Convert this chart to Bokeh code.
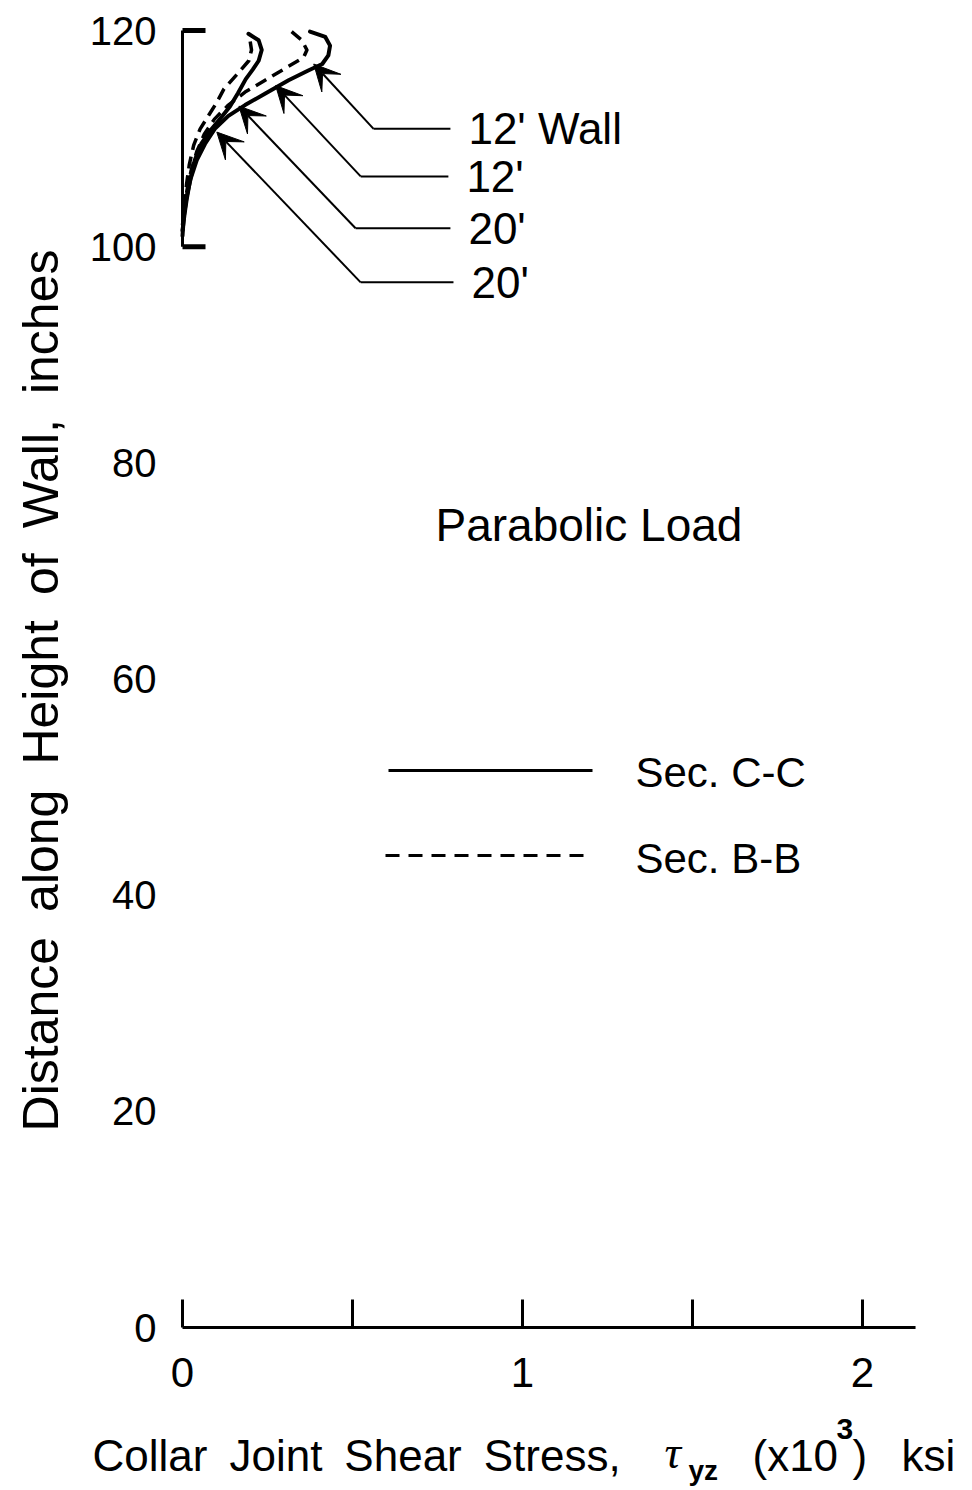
import math
from bokeh.plotting import figure
from bokeh.models import Range1d, ColumnDataSource, Arrow, VeeHead
from bokeh.core.properties import value
from bokeh.embed import file_html
from bokeh.resources import INLINE

FONT = "Liberation Sans"

# Collar joint shear stress tau_yz (x10^3 ksi) against height along the wall (in.)
wall12_cc_tau = [0.000, 0.004, 0.012, 0.024, 0.042, 0.066, 0.095, 0.135, 0.184, 0.245,
                 0.312, 0.370, 0.411, 0.429, 0.434, 0.420, 0.375]
wall12_cc_height = [101.0, 102.8, 104.6, 106.3, 108.0, 109.5, 110.9, 112.1, 113.1, 114.2,
                    115.4, 116.3, 116.9, 117.7, 118.6, 119.4, 119.9]

wall12_bb_tau = [0.000, 0.005, 0.013, 0.025, 0.042, 0.064, 0.094, 0.135, 0.184, 0.243,
                 0.302, 0.356, 0.366, 0.351, 0.317]
wall12_bb_height = [101.5, 103.3, 105.2, 107.0, 108.8, 110.4, 111.8, 113.1, 114.3, 115.4,
                    116.5, 117.5, 118.2, 119.1, 120.0]

wall20_cc_tau = [0.000, 0.006, 0.012, 0.022, 0.036, 0.055, 0.082, 0.115, 0.140, 0.163,
                 0.186, 0.207, 0.224, 0.233, 0.224, 0.194]
wall20_cc_height = [101.5, 103.0, 104.3, 106.1, 108.0, 109.5, 110.75, 112.0, 113.0, 114.2,
                    115.5, 116.4, 117.2, 118.2, 119.1, 119.7]

wall20_bb_tau = [0.000, 0.006, 0.012, 0.020, 0.033, 0.052, 0.078, 0.100, 0.122, 0.162,
                 0.195, 0.203, 0.198]
wall20_bb_height = [102.0, 104.0, 105.8, 107.6, 109.4, 110.9, 112.2, 113.3, 114.6, 116.0,
                    117.2, 118.2, 119.2]

# Callouts: label, arrow tip on the curve, elbow of the leader line
callout_labels = ["12' Wall", "12'", "20'", "20'"]
callout_tip_tau = [0.386, 0.274, 0.166, 0.101]
callout_tip_height = [116.9, 114.9, 113.0, 110.6]
callout_elbow_tau = [0.562, 0.524, 0.509, 0.524]
callout_end_tau = [0.788, 0.782, 0.788, 0.797]
callout_height = [110.9, 106.5, 101.7, 96.7]

y_ticks = [0, 20, 40, 60, 80, 100, 120]
y_tick_labels = ["0", "20", "40", "60", "80", "100", "120"]
x_ticks = [0, 0.5, 1, 1.5, 2]
x_tick_labels = ["0", "", "1", "", "2"]
x_axis_max = 2.156
bracket_ticks = [100, 120]

# Canvas geometry: the plotting frame spans the whole canvas, origin at (182, 1327) px
W, H = 972, 1490
ORIGIN_X, ORIGIN_Y = 182, 1327
PX_X = 340.0                      # pixels per 10^3 ksi
PX_Y = 1297.0 / 120.0             # pixels per inch


def dx(px):
    return px / PX_X


def dy(px):
    return px / PX_Y


def at_x(px):
    """Horizontal canvas pixel -> data x."""
    return dx(px - ORIGIN_X)


def at_y(py):
    """Vertical canvas pixel (from top) -> data y."""
    return dy(ORIGIN_Y - py)


p = figure(width=W, height=H, output_backend="svg", toolbar_location=None,
           x_range=Range1d(at_x(0), at_x(W)), y_range=Range1d(at_y(H), at_y(0)),
           x_axis_location=None, y_axis_location=None,
           min_border=0, min_border_left=0, min_border_right=0,
           min_border_top=0, min_border_bottom=0)
p.outline_line_color = None
p.grid.visible = False
p.background_fill_color = "white"
p.border_fill_color = "white"

text_style = dict(text_font=value(FONT), text_color="black", text_baseline="middle")

# x axis with ticks pointing into the plot
p.segment(x0=[0], y0=[0], x1=[x_axis_max], y1=[0], line_color="black", line_width=3)
p.segment(x0=x_ticks, y0=[0] * len(x_ticks), x1=x_ticks, y1=[dy(28)] * len(x_ticks),
          line_color="black", line_width=3)
p.text(x=x_ticks, y=[dy(-45)] * len(x_ticks), text=x_tick_labels,
       text_font_size="42px", text_align="center", **text_style)

# y axis: tick labels, with the axis line only as a bracket over the top span
p.text(x=[dx(-26)] * len(y_ticks), y=y_ticks, text=y_tick_labels,
       text_font_size="40px", text_align="right", **text_style)
p.segment(x0=[0], y0=[min(bracket_ticks)], x1=[0], y1=[max(bracket_ticks)],
          line_color="black", line_width=3)
p.segment(x0=[0] * len(bracket_ticks), y0=bracket_ticks,
          x1=[dx(23)] * len(bracket_ticks), y1=bracket_ticks,
          line_color="black", line_width=5)

# Stress curves
solid = dict(line_color="black", line_width=4, line_join="round", line_cap="round")
dashed = dict(line_color="black", line_width=3.5, line_dash="12 7", line_join="round")
p.line(wall20_bb_tau, wall20_bb_height, **dashed)
p.line(wall12_bb_tau, wall12_bb_height, **dashed)
p.line(wall20_cc_tau, wall20_cc_height, **solid)
p.line(wall12_cc_tau, wall12_cc_height, **solid)

# Callout leaders
p.segment(x0=callout_elbow_tau, y0=callout_height, x1=callout_end_tau, y1=callout_height,
          line_color="black", line_width=2)
arrows = ColumnDataSource(dict(x0=callout_elbow_tau, y0=callout_height,
                               x1=callout_tip_tau, y1=callout_tip_height))
p.add_layout(Arrow(source=arrows, x_start="x0", y_start="y0", x_end="x1", y_end="y1",
                   line_color="black", line_width=2,
                   end=VeeHead(size=26, fill_color="black", line_color="black")))
p.text(x=[x + dx(18) for x in callout_end_tau], y=callout_height, text=callout_labels,
       text_font_size="44px", text_align="left", **text_style)

# Load case note
p.text(x=[at_x(435)], y=[at_y(524)], text=["Parabolic Load"],
       text_font_size="46px", text_align="left", **text_style)

# Legend
p.line([at_x(388), at_x(592)], [at_y(770)] * 2, line_color="black", line_width=3)
p.line([at_x(385), at_x(588)], [at_y(855)] * 2, line_color="black", line_width=3,
       line_dash="14 9")
p.text(x=[at_x(635), at_x(635)], y=[at_y(772), at_y(858)],
       text=["Sec. C-C", "Sec. B-B"], text_font_size="42px", text_align="left",
       **text_style)

# y axis title
p.text(x=[at_x(40)], y=[at_y(690)], angle=math.pi / 2,
       text=["Distance\u2002along\u2002Height\u2002of\u2002Wall,\u2002inches"],
       text_font_size="50px", text_align="center", **text_style)

# x axis title, set in pieces for the subscript and superscript
title_parts = [
    ("Collar\u2002Joint\u2002Shear\u2002Stress,", 92, 1455, "44px", "normal", FONT),
    ("\u03c4", 664, 1452, "46px", "italic", "Liberation Serif"),
    ("yz", 688, 1470, "28px", "bold", FONT),
    ("(x10", 752, 1455, "44px", "normal", FONT),
    ("3", 836, 1428, "30px", "bold", FONT),
    (")\u2002 ksi", 852, 1455, "44px", "normal", FONT),
]
for txt, px, py, size, style, font in title_parts:
    p.text(x=[at_x(px)], y=[at_y(py)], text=[txt], text_font=value(font),
           text_font_size=size, text_font_style=style, text_align="left",
           text_baseline="middle", text_color="black")

open("out.html", "w").write(file_html(p, INLINE))
